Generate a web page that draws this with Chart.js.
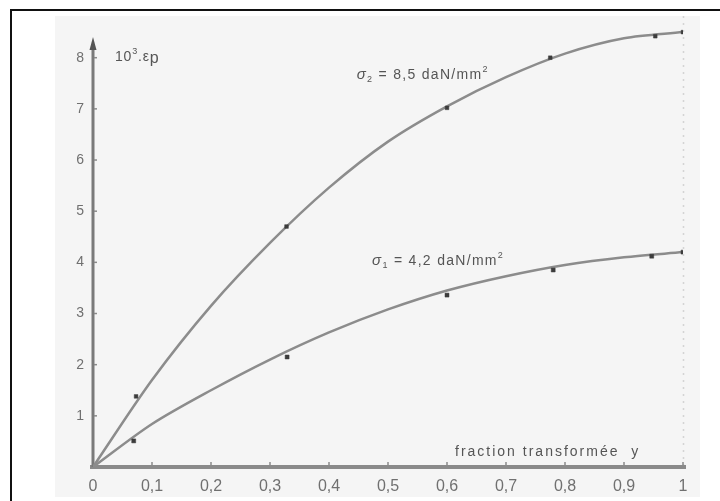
<!DOCTYPE html>
<html>
<head>
<meta charset="utf-8">
<script src="https://cdn.jsdelivr.net/npm/chart.js@4/dist/chart.umd.min.js"></script>
<style>
  html, body { margin: 0; padding: 0; background: #ffffff; }
  #wrap { width: 720px; height: 501px; }
</style>
</head>
<body>
<div id="wrap"><canvas id="c" width="720" height="501"></canvas></div>
<script>
// Plastic strain 10^3·εp against transformed fraction y, for two stress levels.
const xTicks = [0, 0.1, 0.2, 0.3, 0.4, 0.5, 0.6, 0.7, 0.8, 0.9, 1];
const yTicks = [1, 2, 3, 4, 5, 6, 7, 8];

// Fitted curves (read at each tenth of y)
const curveX = [0, 0.1, 0.2, 0.3, 0.4, 0.5, 0.6, 0.7, 0.8, 0.9, 1];
const curveHigh = [0, 1.7, 3.15, 4.38, 5.46, 6.36, 7.05, 7.62, 8.08, 8.38, 8.5];
const curveLow = [0, 0.84, 1.5, 2.1, 2.63, 3.08, 3.45, 3.73, 3.95, 4.1, 4.2];

// Measured points
const measHighX = [0.073, 0.328, 0.6, 0.775, 0.953, 1];
const measHighY = [1.38, 4.7, 7.02, 8.0, 8.42, 8.5];
const measLowX = [0.069, 0.329, 0.6, 0.78, 0.947, 1];
const measLowY = [0.51, 2.15, 3.36, 3.85, 4.12, 4.2];

const labelHigh = { sub: '2', text: ' = 8,5 daN/mm', sup: '2', x: 0.447, y: 7.58 };
const labelLow = { sub: '1', text: ' = 4,2 daN/mm', sup: '2', x: 0.473, y: 3.95 };

const pts = (xs, ys) => xs.map((x, i) => ({ x: x, y: ys[i] }));

const FONT = '"Liberation Sans", Arial, sans-serif';
const LINE = '#8c8c8c';
const TEXT = '#555555';

const decor = {
  id: 'decor',
  beforeDraw(chart) {
    const ctx = chart.ctx;
    ctx.save();
    ctx.fillStyle = '#ffffff';
    ctx.fillRect(0, 0, chart.width, chart.height);
    // scanned sheet tone
    ctx.fillStyle = '#f5f5f5';
    ctx.fillRect(55, 16, 645, 481);
    // frame
    ctx.strokeStyle = '#111';
    ctx.lineWidth = 2;
    ctx.beginPath();
    ctx.moveTo(11, chart.height);
    ctx.lineTo(11, 10);
    ctx.lineTo(chart.width, 10);
    ctx.stroke();
    ctx.restore();
  },
  beforeDatasetsDraw(chart) {
    const ctx = chart.ctx;
    const xs = chart.scales.x, ys = chart.scales.y;
    const x0 = xs.getPixelForValue(0), y0 = ys.getPixelForValue(0);
    const x1 = xs.getPixelForValue(1);
    ctx.save();
    // faint dotted edge at y = 1
    ctx.strokeStyle = '#d4d4d4';
    ctx.lineWidth = 1.5;
    ctx.setLineDash([2, 5]);
    ctx.beginPath();
    ctx.moveTo(x1 + 0.5, 16);
    ctx.lineTo(x1 + 0.5, y0);
    ctx.stroke();
    ctx.setLineDash([]);
    // x axis
    ctx.strokeStyle = '#8a8a8a';
    ctx.lineWidth = 4;
    ctx.beginPath();
    ctx.moveTo(x0 - 3, y0);
    ctx.lineTo(x1 + 3, y0);
    ctx.stroke();
    // y axis with arrow
    ctx.lineWidth = 3;
    ctx.strokeStyle = '#7a7a7a';
    ctx.beginPath();
    ctx.moveTo(x0, y0);
    ctx.lineTo(x0, 44);
    ctx.stroke();
    ctx.fillStyle = '#555';
    ctx.beginPath();
    ctx.moveTo(x0, 37);
    ctx.lineTo(x0 - 3.5, 50);
    ctx.lineTo(x0 + 3.5, 50);
    ctx.closePath();
    ctx.fill();
    // tick marks
    ctx.strokeStyle = '#8a8a8a';
    ctx.lineWidth = 1.5;
    xTicks.forEach(v => {
      if (v === 0) return;
      const px = xs.getPixelForValue(v);
      ctx.beginPath();
      ctx.moveTo(px, y0 - 2);
      ctx.lineTo(px, y0 - 5);
      ctx.stroke();
    });
    yTicks.forEach(v => {
      const py = ys.getPixelForValue(v);
      ctx.beginPath();
      ctx.moveTo(x0 + 1, py);
      ctx.lineTo(x0 + 4, py);
      ctx.stroke();
    });
    ctx.restore();
  },
  afterDraw(chart) {
    const ctx = chart.ctx;
    const xs = chart.scales.x, ys = chart.scales.y;
    ctx.save();
    ctx.fillStyle = TEXT;
    ctx.textBaseline = 'alphabetic';
    ctx.textAlign = 'left';

    // y-axis title: 10³.εp
    ctx.letterSpacing = '0.8px';
    let x = 115, base = 61;
    ctx.font = '14px ' + FONT;
    ctx.fillText('10', x, base); x += ctx.measureText('10').width;
    ctx.font = '9px ' + FONT;
    ctx.fillText('3', x, base - 7); x += ctx.measureText('3').width;
    ctx.font = '14px ' + FONT;
    ctx.fillText('.ε', x, base); x += ctx.measureText('.ε').width;
    ctx.font = '16px ' + FONT;
    ctx.fillText('p', x, base + 2);

    // x-axis title
    ctx.font = '14px ' + FONT;
    ctx.letterSpacing = '2px';
    ctx.fillText('fraction transformée  y', 455, 456);

    // stress labels
    [labelHigh, labelLow].forEach(l => {
      let px = xs.getPixelForValue(l.x);
      const py = ys.getPixelForValue(l.y);
      ctx.letterSpacing = '1.3px';
      ctx.font = 'italic 15px ' + FONT;
      ctx.fillText('σ', px, py); px += ctx.measureText('σ').width;
      ctx.font = '9px ' + FONT;
      ctx.fillText(l.sub, px, py + 3); px += ctx.measureText(l.sub).width;
      ctx.font = '14px ' + FONT;
      ctx.fillText(l.text, px, py); px += ctx.measureText(l.text).width;
      ctx.font = '9px ' + FONT;
      ctx.fillText(l.sup, px, py - 7);
    });
    ctx.restore();
  }
};

new Chart(document.getElementById('c'), {
  type: 'scatter',
  data: {
    datasets: [
      {
        data: pts(curveX, curveHigh), showLine: true, borderColor: LINE, borderWidth: 2.5,
        pointRadius: 0, tension: 0.3, order: 2
      },
      {
        data: pts(curveX, curveLow), showLine: true, borderColor: LINE, borderWidth: 2.5,
        pointRadius: 0, tension: 0.3, order: 2
      },
      {
        data: pts(measHighX, measHighY), showLine: false, pointStyle: 'rect', pointRadius: 2.6,
        backgroundColor: '#3c3c3c', borderColor: '#3c3c3c', borderWidth: 0.5, order: 1
      },
      {
        data: pts(measLowX, measLowY), showLine: false, pointStyle: 'rect', pointRadius: 2.8,
        backgroundColor: '#3c3c3c', borderColor: '#3c3c3c', borderWidth: 0.5, order: 1
      }
    ]
  },
  options: {
    responsive: false,
    animation: false,
    events: [],
    layout: { padding: { left: 40, right: 37, top: 27, bottom: 4 } },
    plugins: { legend: { display: false }, tooltip: { enabled: false } },
    scales: {
      x: {
        type: 'linear', min: 0, max: 1,
        grid: { display: false, drawTicks: false },
        border: { display: false },
        afterBuildTicks: s => { s.ticks = xTicks.map(v => ({ value: v })); },
        afterFit: s => { s.height = 30; },
        ticks: {
          padding: 10, maxRotation: 0, autoSkip: false,
          color: '#707070', font: { family: FONT, size: 16 },
          callback: v => String(Math.round(v * 10) / 10).replace('.', ',')
        }
      },
      y: {
        type: 'linear', min: 0, max: 8.6,
        grid: { display: false, drawTicks: false },
        border: { display: false },
        afterBuildTicks: s => { s.ticks = yTicks.map(v => ({ value: v })); },
        afterFit: s => { s.width = 53; },
        ticks: {
          padding: 9, autoSkip: false,
          color: '#707070', font: { family: FONT, size: 14 },
          callback: v => String(v)
        }
      }
    }
  },
  plugins: [decor]
});
</script>
</body>
</html>
